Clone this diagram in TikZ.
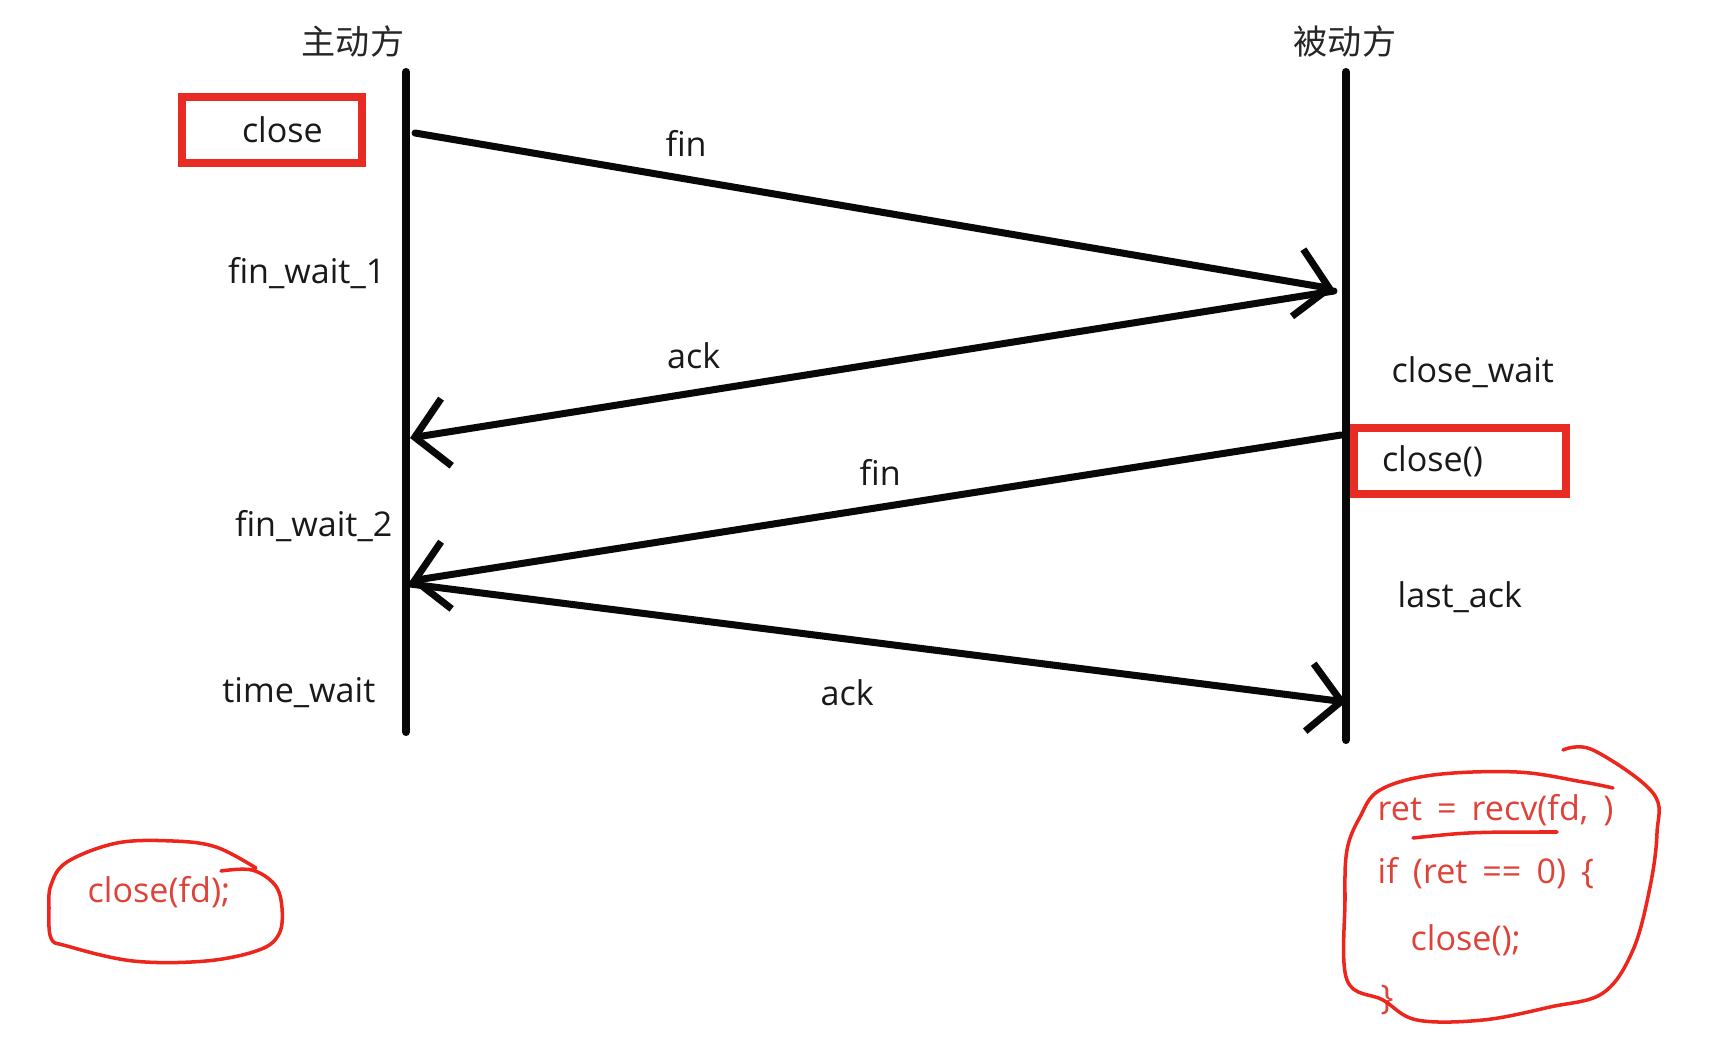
\documentclass[tikz,border=0pt]{standalone}
\usepackage{fontspec}
\setmainfont{Open Sans}
\newfontfamily\cjk{Noto Sans CJK SC}
\newfontfamily\codefont[WordSpace=1.7]{Open Sans}
\usetikzlibrary{arrows.meta,positioning}
\definecolor{boxred}{RGB}{232,44,36}
\definecolor{inkred}{RGB}{236,38,28}
\definecolor{textred}{RGB}{222,66,56}
\definecolor{penblack}{RGB}{8,8,8}

\begin{document}
\begin{tikzpicture}[
  x=0.1mm, y=-0.1mm,
  font=\fontsize{9.7}{12}\selectfont,
  party/.style={font=\fontsize{9.7}{12}\selectfont\cjk, text=black!85},
  state/.style={text=black!90, inner sep=0pt},
  lbl/.style={text=black!90, inner sep=0pt},
  life/.style={line width=2.3pt, color=penblack, line cap=round},
  msg/.style={-{Straight Barb[length=3.2mm,width=6.8mm]}, line width=2pt, color=penblack, line cap=round},
  callbox/.style={draw=boxred, line width=2pt, minimum height=6.6mm, inner sep=0pt, text=black!90},
  ink/.style={draw=inkred, line width=1pt, line cap=round, line join=round},
  code/.style={font=\fontsize{9.7}{12}\selectfont\codefont, text=textred, inner sep=0pt, anchor=west},
]
\useasboundingbox (0,0) rectangle (1712,1044);

% lifelines
\node[party] (act) at (353,41) {主动方};
\node[party] (pas) at (1345,41) {被动方};
\coordinate (actTop) at (406,72);
\coordinate (actEnd) at (406,732);
\coordinate (pasTop) at (1346,72);
\coordinate (pasEnd) at (1346,740);
\draw[life] (actTop) -- (actEnd);
\draw[life] (pasTop) -- (pasEnd);

% messages
\coordinate (fin1s) at (415,133);
\coordinate (fin1e) at (1334,289);
\coordinate (ack1s) at (1334,291);
\coordinate (ack1e) at (410,438);
\coordinate (fin2s) at (1341,435);
\coordinate (fin2e) at (410,581);
\coordinate (ack2s) at (410,584);
\coordinate (ack2e) at (1346,702);

\draw[msg] (fin1s) -- node[lbl, pos=0.295, yshift=3.6mm] (finA) {fin} (fin1e);
\draw[msg] (ack1s) -- node[lbl, pos=0.693, yshift=3.7mm] (ackA) {ack} (ack1e);
\draw[msg] (fin2s) -- node[lbl, pos=0.495, yshift=3.5mm] (finB) {fin} (fin2e);
\draw[msg] (ack2s) -- node[lbl, pos=0.467, yshift=-5.4mm] (ackB) {ack} (ack2e);

% states
\node[callbox, minimum width=18mm, text width=18mm, align=left] (closeA) at (272,130) {\hspace*{6mm}close};
\node[state, anchor=east] (fw1) at (386,273) {fin\_wait\_1};
\node[state, anchor=east] (fw2) at (393,526) {fin\_wait\_2};
\node[state, anchor=east] (tw) at (376,693) {time\_wait};
\node[state, anchor=west] (cw) at (1391,372) {close\_wait};
\node[callbox, minimum width=21.2mm, text width=15.6mm, inner xsep=2.8mm, align=left] (closeB) at (1460,461) {close()};
\node[state, anchor=west] (la) at (1397,597) {last\_ack};

% red notes
\node[code, anchor=center] (closefd) at (159,892) {close(fd);};
\draw[ink] plot[smooth, tension=0.6] coordinates {(221,871) (252,870) (275,885) (282,908) (279,934) (259,950) (206,961) (133,961) (67,946) (51,938) (49,908) (51,885) (67,862) (117,843) (173,841) (216,847) (256,868)};

\node[code] (recv) at (1377,810) {ret = recv(fd, )};
\node[code] (cond) at (1377,873) {if (ret == 0) \{};
\node[code] (shut) at (1410,940) {close();};
\node[code] (brace) at (1380,1000) {\}};
\draw[ink] (1413,838) .. controls (1470,832) .. (1557,832);
\draw[ink] plot[smooth, tension=0.6] coordinates {(1563,750) (1593,750) (1653,793) (1657,833) (1650,887) (1633,950) (1603,993) (1550,1007) (1483,1020) (1417,1020) (1383,1000) (1347,980) (1345,900) (1347,850) (1360,817) (1380,790) (1433,775) (1517,772) (1583,782) (1613,788)};
\end{tikzpicture}
\end{document}
